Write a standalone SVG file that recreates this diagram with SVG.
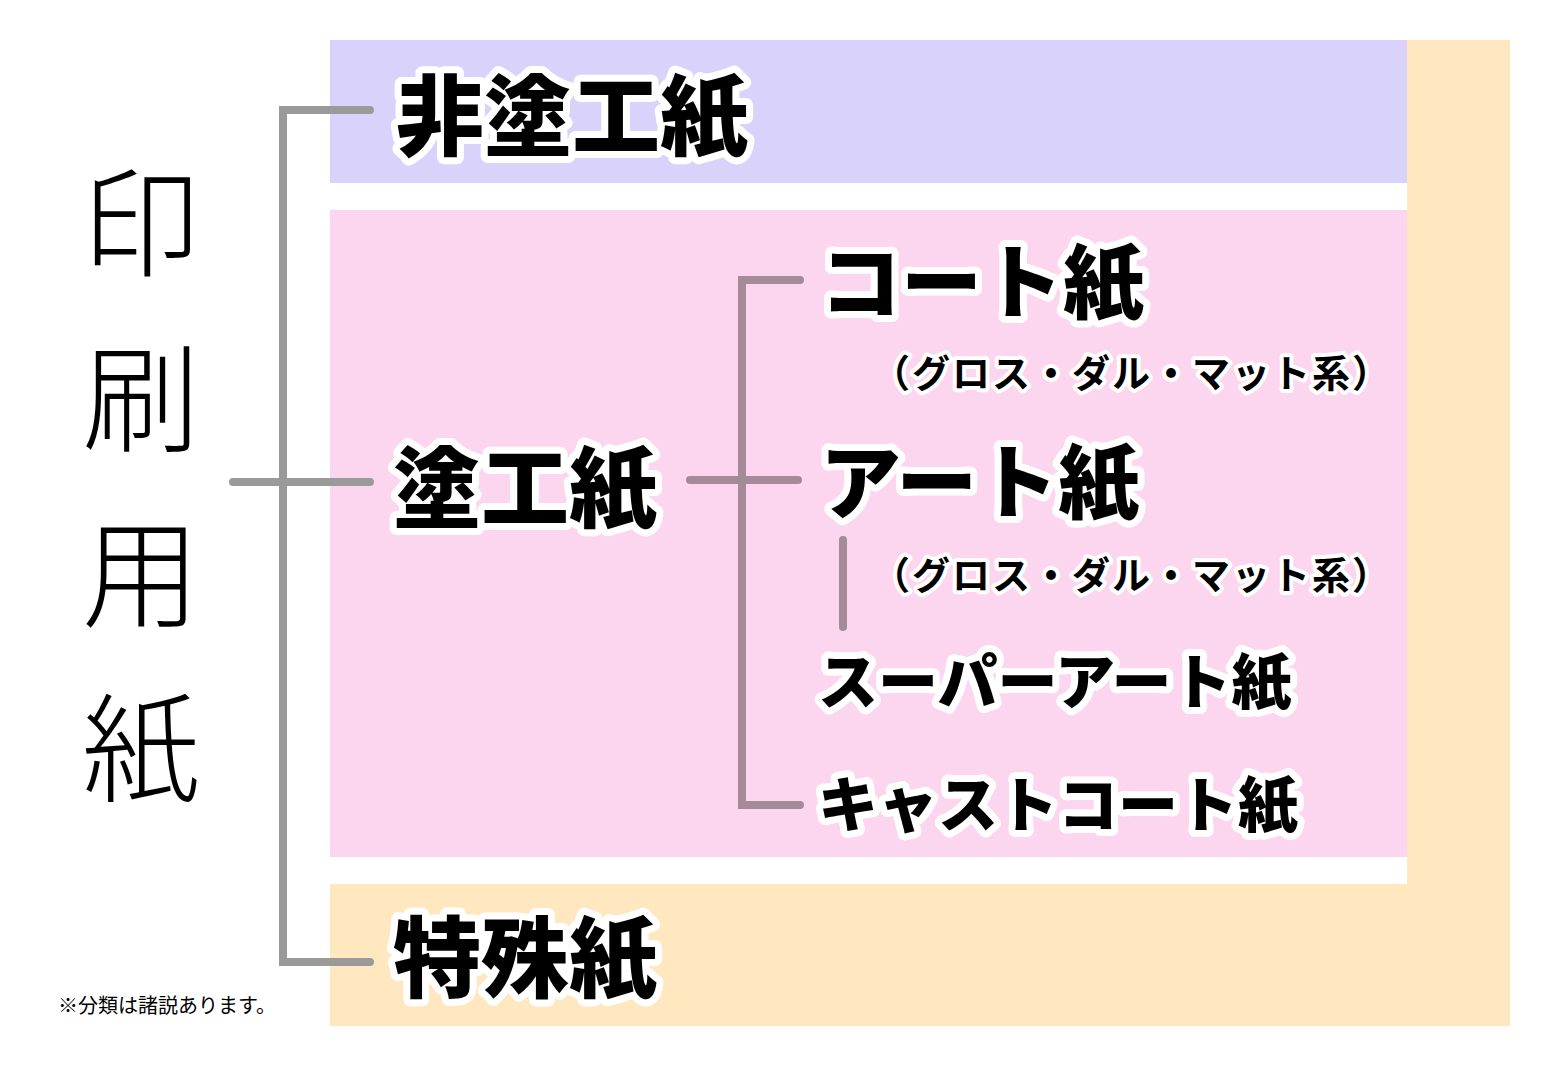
<svg xmlns="http://www.w3.org/2000/svg" width="1560" height="1080" viewBox="0 0 1560 1080">
<style>
.b{font-family:"Noto Sans CJK JP",sans-serif;font-weight:900;fill:#000;stroke:#fff;stroke-width:14;stroke-linejoin:round;paint-order:stroke}
.s{font-family:"Noto Sans CJK JP",sans-serif;font-weight:700;fill:#000;stroke:#fff;stroke-width:8;stroke-linejoin:round;paint-order:stroke;font-size:38px;letter-spacing:2px}
.t{font-family:"Noto Sans CJK JP",sans-serif;font-weight:300;font-size:118px;fill:#000}
.g{stroke:#9a9a9a;stroke-width:8;fill:none;stroke-linecap:round}
.p{stroke:#a58a99;stroke-width:8;fill:none;stroke-linecap:round}
</style>
<rect width="1560" height="1080" fill="#fff"/>
<g id="bg">
<rect x="1407" y="40" width="103" height="986" fill="#ffe8c0"/>
<rect x="330" y="884" width="1180" height="142" fill="#ffe8c0"/>
<rect x="330" y="40" width="1077" height="143" fill="#d9d3fc"/>
<rect x="330" y="210" width="1077" height="647" fill="#fcd6ee"/>
</g>
<g id="connectors">
<path class="g" d="M370 110H283V962H370M233 482H370"/>
<path class="p" d="M800 280H742V805H800M690 480H798M843 540V627"/>
</g>
<g id="root"><text class="t" x="82" y="268">印</text><text class="t" x="82" y="443">刷</text><text class="t" x="82" y="618">用</text><text class="t" x="82" y="793">紙</text></g>
<g id="n1"><text class="b" x="396" y="148" font-size="88">非塗工紙</text></g>
<g id="n2"><text class="b" x="393" y="520" font-size="88">塗工紙</text></g>
<g id="n3"><text class="b" x="393" y="990" font-size="88">特殊紙</text></g>
<g id="n4"><text class="b" x="820" y="312" font-size="81">コート紙</text><text class="s" x="872" y="387">（グロス・ダル・マット系）</text></g>
<g id="n5"><text class="b" x="820" y="512" font-size="81">アート紙</text><text class="s" x="872" y="589">（グロス・ダル・マット系）</text></g>
<g id="n6"><text class="b" x="818" y="704" font-size="60">スーパーアート紙</text></g>
<g id="n7"><text class="b" x="818" y="827" font-size="60">キャストコート紙</text></g>
<text x="58" y="1013" font-family="Noto Sans CJK JP,sans-serif" font-size="20">※分類は諸説あります。</text>
</svg>
